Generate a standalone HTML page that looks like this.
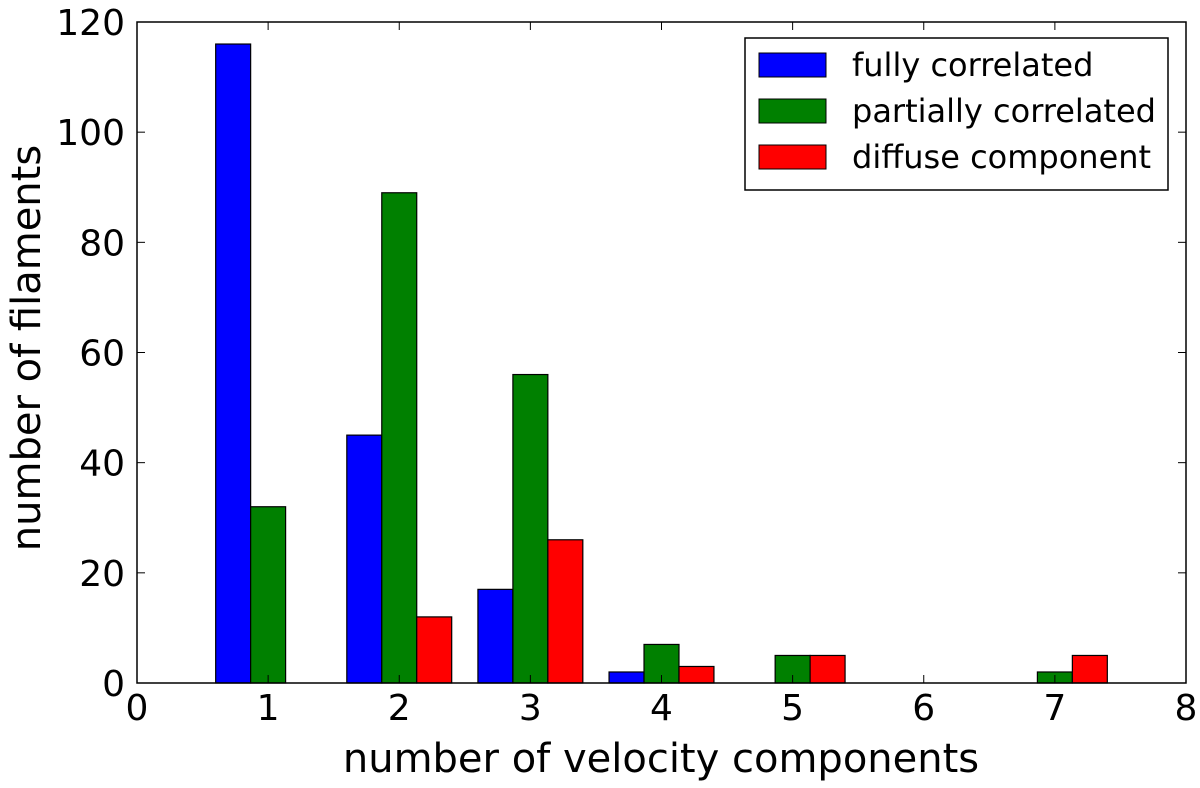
<!DOCTYPE html>
<html><head><meta charset="utf-8"><style>
html,body{margin:0;padding:0;background:#fff;}
svg{display:block;font-family:"DejaVu Sans","Liberation Sans",sans-serif;}
</style></head><body>
<svg id="chart" width="1200" height="788" viewBox="0 0 1200 788" xmlns="http://www.w3.org/2000/svg">
<g id="bars"></g>
<g id="axes"></g>
<text x="661" y="772" font-size="40" text-anchor="middle">number of velocity components</text>
<text transform="translate(40,348) rotate(-90)" font-size="40" text-anchor="middle">number of filaments</text>
<g>
<rect x="745" y="38" width="423" height="152" fill="#fff" stroke="#000" stroke-width="1.5"/>
<rect x="759" y="53" width="67" height="24" fill="#0000ff" stroke="#000"/>
<text x="852" y="76" font-size="32">fully correlated</text>
<rect x="759" y="99" width="67" height="24" fill="#008000" stroke="#000"/>
<text x="852" y="122" font-size="32">partially correlated</text>
<rect x="759" y="145" width="67" height="24" fill="#ff0000" stroke="#000"/>
<text x="852" y="168" font-size="32">diffuse component</text>
</g>
</svg>
<script>
const categories = [1,2,3,4,5,6,7];
const fully = [116,45,17,2,0,0,0];
const partially = [32,89,56,7,5,0,2];
const diffuse = [0,12,26,3,5,0,5];
const xTicks = [0,1,2,3,4,5,6,7,8];
const yTicks = [0,20,40,60,80,100,120];
const L=137,R=1186,T=22,B=683;
const xs=v=>L+(v/8)*(R-L);
const ys=v=>B-(v/120)*(B-T);
const NS="http://www.w3.org/2000/svg";
const bars=document.getElementById('bars'), axes=document.getElementById('axes');
function mk(tag,attrs,parent){const e=document.createElementNS(NS,tag);for(const k in attrs)e.setAttribute(k,attrs[k]);parent.appendChild(e);return e;}
const series=[[fully,'#0000ff','fully'],[partially,'#008000','partially'],[diffuse,'#ff0000','diffuse']];
const w=0.8/3;
series.forEach((s,si)=>{
  categories.forEach((c,i)=>{
    const x0=xs(c-0.4+si*w), x1=xs(c-0.4+(si+1)*w);
    const r=mk('rect',{x:x0,y:ys(s[0][i]),width:x1-x0,height:ys(0)-ys(s[0][i]),fill:s[1],stroke:'#000','stroke-width':1.2},bars);
    
    
  });
});
mk('rect',{x:L,y:T,width:R-L,height:B-T,fill:'none',stroke:'#000','stroke-width':1.5},axes);
xTicks.forEach(t=>{
  const x=xs(t);
  mk('line',{x1:x,x2:x,y1:B,y2:B-8,stroke:'#000','stroke-width':1},axes);
  mk('line',{x1:x,x2:x,y1:T,y2:T+8,stroke:'#000','stroke-width':1},axes);
  const tx=mk('text',{x:x,y:B+37,'font-size':36,'text-anchor':'middle'},axes);
  tx.textContent=t;
  
  
});
yTicks.forEach(t=>{
  const y=ys(t);
  mk('line',{x1:L,x2:L+8,y1:y,y2:y,stroke:'#000','stroke-width':1},axes);
  mk('line',{x1:R,x2:R-8,y1:y,y2:y,stroke:'#000','stroke-width':1},axes);
  const tx=mk('text',{x:L-12,y:y+13,'font-size':36,'text-anchor':'end'},axes);
  tx.textContent=t;
  
  
});
</script>
</body></html>
